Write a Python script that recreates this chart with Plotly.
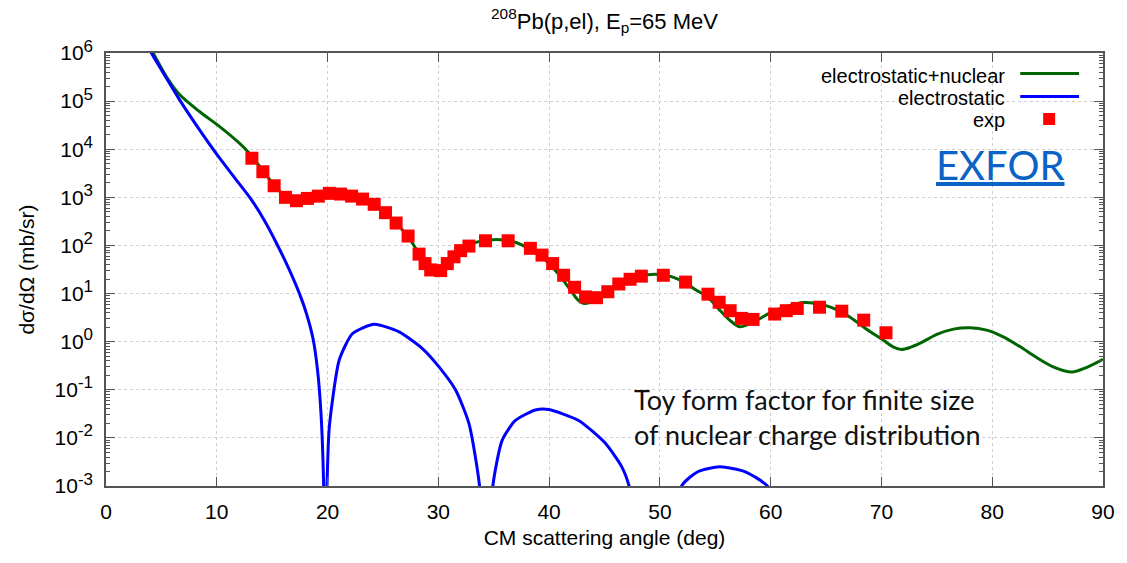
import plotly.graph_objects as go

# ---------------- data ----------------
exp_angle = [13.17, 14.16, 15.18, 16.20, 17.19, 18.18, 19.17, 20.16, 21.18, 22.17,
             23.16, 24.21, 25.23, 26.19, 27.27, 28.26, 28.80, 29.31, 30.21, 30.81,
             31.41, 32.01, 32.76, 34.26, 36.30, 38.31, 39.36, 40.32, 41.31, 42.30,
             43.29, 44.28, 45.30, 46.29, 47.31, 48.33, 50.31, 52.32, 54.34, 55.35,
             56.34, 57.36, 58.41, 60.36, 61.41, 62.40, 64.41, 66.42, 68.40, 70.41]
exp_xs = [6500, 3400, 1740, 1000, 850, 950, 1060, 1210, 1170, 1060,
          920, 715, 480, 292, 157, 66, 42, 31, 30, 42,
          58, 78, 97, 125, 125, 87, 63, 42, 24, 13.5,
          8.5, 8.2, 10.9, 15.8, 19.8, 23, 24, 17.3, 9.7, 6.6,
          4.4, 3.05, 2.9, 3.75, 4.4, 4.9, 5.2, 4.3, 2.8, 1.53]

full_angle = [3.6, 4.26, 5.46, 6.66, 8.46, 10.26, 12.06, 12.81, 13.2, 14.2,
              15.2, 16.2, 17.2, 18.2, 19.2, 20.2, 21.2, 22.2, 23.2, 24.2,
              25.2, 26.2, 27.2, 28.2, 29.0, 29.6, 30.1, 30.6, 31.2, 32.0,
              33.0, 34.0, 35.0, 36.0, 37.0, 38.0, 39.0, 40.0, 41.0, 42.0,
              42.6, 43.2, 43.9, 45.0, 46.0, 47.0, 48.0, 49.2, 50.3, 51.3,
              52.3, 53.3, 54.3, 55.3, 56.3, 57.2, 58.0, 59.0, 60.0, 61.0,
              62.0, 62.9, 64.0, 65.0, 66.0, 67.0, 68.0, 69.0, 70.0, 71.0,
              71.8, 72.6, 73.5, 75.0, 76.5, 78.0, 79.5, 81.0, 82.5, 84.0,
              85.5, 87.2, 88.5, 90.0]
full_xs = [1.9e6, 1.0e6, 3.2e5, 1.35e5, 6.0e4, 2.95e4, 1.32e4, 8.9e3, 7.0e3, 3.5e3,
           1.78e3, 1.05e3, 930, 1000, 1120, 1230, 1230, 1150, 950, 720,
           480, 290, 160, 72, 40, 29, 26, 30, 46, 76,
           107, 126, 132, 129, 115, 91, 66, 42, 23, 11.2,
           7.4, 6.2, 6.9, 10.5, 14.8, 19, 23, 25, 24.5, 21.4,
           16.6, 11.7, 8.5, 4.8, 2.8, 2.04, 2.3, 3.0, 4.0, 5.0,
           5.9, 6.5, 6.3, 5.6, 4.6, 3.4, 2.35, 1.6, 1.15, 0.79,
           0.69, 0.76, 0.93, 1.41, 1.82, 1.95, 1.74, 1.26, 0.79, 0.47,
           0.30, 0.235, 0.29, 0.43]

coul_angle = [3.6, 4.1, 5.46, 6.66, 8.46, 10.26, 11.7, 13.1, 14.3, 15.4,
              16.5, 17.5, 18.1, 18.7, 19.1, 19.41, 19.65, 19.8, 19.95, 20.16,
              21.06, 22.26, 24.21, 26.46, 28.56, 30.06, 31.56, 32.76, 33.72, 34.3,
              34.92, 35.76, 36.96, 38.76, 39.96, 42.66, 45.06, 46.56, 47.22, 49.6,
              51.96, 53.46, 55.41, 57.66, 59.7, 61.0, 62.0]
coul_xs = [1.7e6, 1.0e6, 3.0e5, 1.05e5, 2.5e4, 6.5e3, 2.4e3, 910, 330, 110,
           33, 9.5, 3.8, 1.12, 0.25, 0.032, 1e-3, 1e-6, 1e-3, 0.017,
           0.42, 1.48, 2.3, 1.6, 0.72, 0.30, 0.099, 0.020, 1e-3, 1e-6,
           1e-3, 0.0089, 0.023, 0.038, 0.039, 0.023, 0.0078, 0.0025, 1e-3, 1e-6,
           1e-3, 0.002, 0.0025, 0.002, 1e-3, 2e-4, 1e-5]

x_ticks = [0, 10, 20, 30, 40, 50, 60, 70, 80, 90]
y_ticks = [1e-3, 1e-2, 1e-1, 1e0, 1e1, 1e2, 1e3, 1e4, 1e5, 1e6]
y_exponents = ["-3", "-2", "-1", "0", "1", "2", "3", "4", "5", "6"]
y_ticktext = ['10<sup><span style="font-size:17px">%s</span></sup>' % e for e in y_exponents]
y_minor = [m * d for d in y_ticks[:-1] for m in range(2, 10)]

legend_labels = ["electrostatic+nuclear", "electrostatic", "exp"]

# ---------------- style ----------------
W, H = 1127, 563
L, R, T, B = 106, 21, 53, 77
GREEN = "#006400"
BLUE = "#0000FF"
RED = "#FF0000"
AXC = "#555555"
FONT = "Liberation Sans, Arial, sans-serif"


def px(xp):
    return (xp - L) / (W - L - R)


def py(yp):
    return (H - B - yp) / (H - B - T)


fig = go.Figure()
fig.add_trace(go.Scatter(x=full_angle, y=full_xs, mode="lines", name=legend_labels[0],
                         line=dict(color=GREEN, width=3, shape="spline", smoothing=0.8),
                         showlegend=False))
fig.add_trace(go.Scatter(x=coul_angle, y=coul_xs, mode="lines", name=legend_labels[1],
                         line=dict(color=BLUE, width=3, shape="spline", smoothing=0.6),
                         showlegend=False))
fig.add_trace(go.Scatter(x=exp_angle, y=exp_xs, mode="markers", name=legend_labels[2],
                         marker=dict(symbol="square", size=13, color=RED, line=dict(width=0)),
                         showlegend=False))

axis_common = dict(showline=True, linecolor=AXC, linewidth=1.5, mirror="ticks",
                   ticks="inside", tickcolor=AXC, tickwidth=1.2, ticklen=9,
                   showgrid=True, gridcolor="#cfcfcf", griddash="dot", gridwidth=1,
                   zeroline=False, tickfont=dict(family=FONT, size=21, color="black"))

fig.update_xaxes(range=[0, 90], tickmode="array", tickvals=x_ticks,
                 ticktext=[str(v) for v in x_ticks],
                 title=dict(text="CM scattering angle (deg)",
                            font=dict(family=FONT, size=21, color="black"), standoff=8),
                 ticklabelstandoff=6, **axis_common)
fig.update_yaxes(type="log", range=[-3, 6], tickmode="array", tickvals=y_ticks,
                 ticktext=y_ticktext,
                 minor=dict(tickmode="array", tickvals=y_minor, ticks="inside",
                            ticklen=4, tickcolor=AXC, tickwidth=1, showgrid=False),
                 title=dict(text="dσ/dΩ (mb/sr)",
                            font=dict(family=FONT, size=21, color="black"), standoff=14),
                 ticklabelstandoff=7, **axis_common)

# legend (gnuplot style: text right, sample to the right)
leg_font = dict(family=FONT, size=20, color="black")
legend_rows = [75.5, 98.0, 120.5]
for txt, yy in zip(legend_labels, legend_rows):
    fig.add_annotation(x=px(1009), y=py(yy), xref="paper", yref="paper", text=txt,
                       showarrow=False, xanchor="right", yanchor="middle",
                       borderpad=0, font=leg_font)
fig.add_shape(type="line", xref="paper", yref="paper", x0=px(1023), x1=px(1082),
              y0=py(73.5), y1=py(73.5), line=dict(color=GREEN, width=3))
fig.add_shape(type="line", xref="paper", yref="paper", x0=px(1023), x1=px(1082),
              y0=py(96.5), y1=py(96.5), line=dict(color=BLUE, width=3))
fig.add_shape(type="rect", xref="paper", yref="paper", x0=px(1046), x1=px(1058),
              y0=py(125), y1=py(113), line=dict(width=0), fillcolor=RED)

fig.add_annotation(x=px(1003), y=py(165), xref="paper", yref="paper",
                   text="<u>EXFOR</u>", showarrow=False, xanchor="center", yanchor="middle",
                   font=dict(family="Lato, Carlito, sans-serif", size=40, color="#0B63C5"))
fig.add_annotation(x=px(634), y=py(417), xref="paper", yref="paper",
                   text="Toy form factor for finite size<br>of nuclear charge distribution",
                   showarrow=False, xanchor="left", yanchor="middle", align="left",
                   font=dict(family="Lato, Carlito, sans-serif", size=27, color="#111111"))

fig.update_layout(
    width=W, height=H, autosize=False,
    margin=dict(l=L, r=R, t=T, b=B),
    paper_bgcolor="white", plot_bgcolor="white",
    title=dict(text="<sup>208</sup>Pb(p,el), E<sub>p</sub>=65 MeV",
               x=0.5, xref="paper", xanchor="center",
               y=1 - 21 / H, yref="container", yanchor="middle",
               font=dict(family=FONT, size=22, color="black")),
)

fig.write_html("out.html")
